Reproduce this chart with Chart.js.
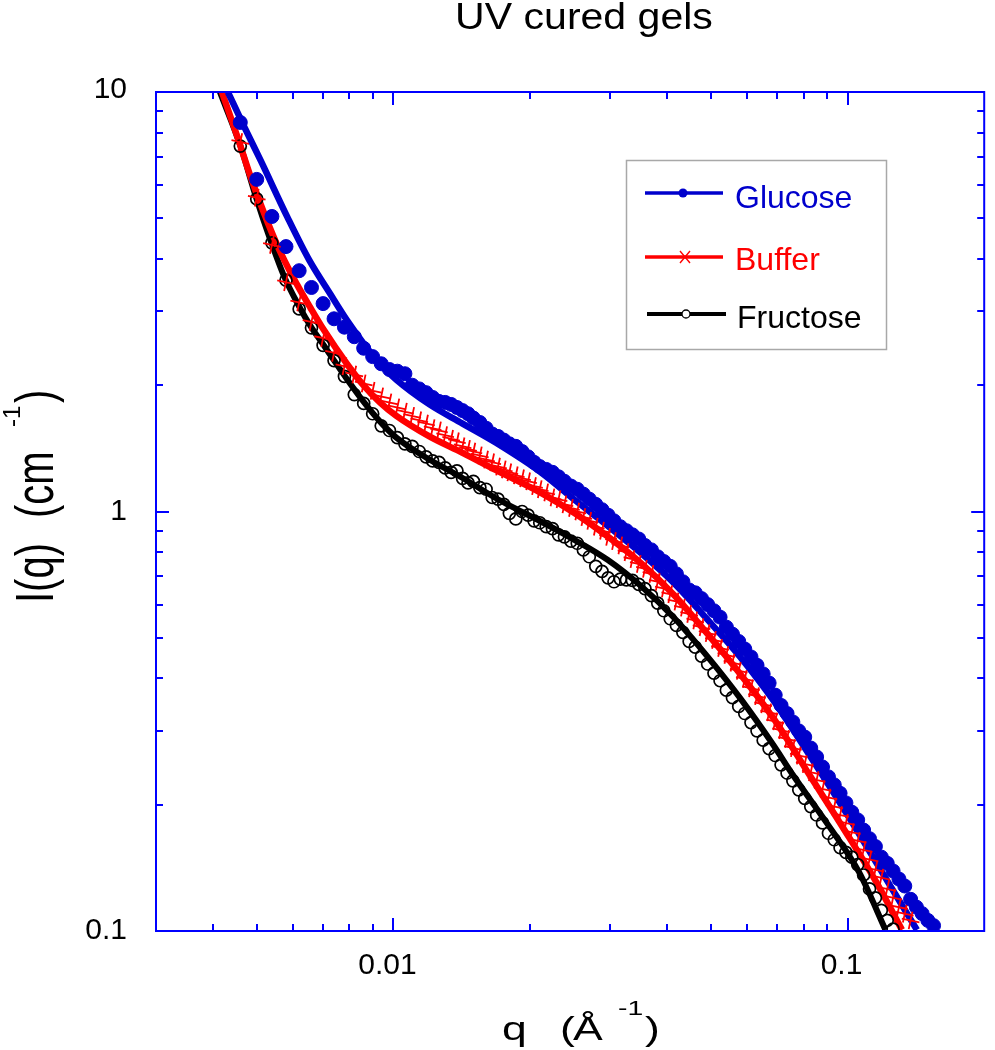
<!DOCTYPE html>
<html>
<head>
<meta charset="utf-8">
<script src="https://cdn.jsdelivr.net/npm/chart.js@4.4.0/dist/chart.umd.min.js"></script>
<style>
  html, body { margin: 0; padding: 0; background: #fff; }
  #wrap { width: 995px; height: 1050px; }
</style>
</head>
<body>
<div id="wrap"><canvas id="chart" width="995" height="1050"></canvas></div>
<script>
// ----- DATA -----
// q grid shared by the three measured series (1/A)
const qData = [
  0.0046, 0.0050, 0.0054, 0.0058, 0.0062, 0.0066, 0.0070, 0.0074, 0.0078, 0.0082,
  0.0086, 0.0090, 0.0094, 0.0098, 0.0102, 0.0106, 0.0110, 0.0114, 0.0118, 0.0122,
  0.0126, 0.0130, 0.0134, 0.0138, 0.0142, 0.0146, 0.0150, 0.0155, 0.0160, 0.0165,
  0.0170, 0.0175, 0.0180, 0.0186, 0.0192, 0.0198, 0.0204, 0.0210, 0.0217, 0.0224,
  0.0231, 0.0238, 0.0246, 0.0254, 0.0262, 0.0270, 0.0279, 0.0288, 0.0297, 0.0306,
  0.0316, 0.0326, 0.0336, 0.0347, 0.0358, 0.0370, 0.0382, 0.0394, 0.0407, 0.0420,
  0.0434, 0.0448, 0.0462, 0.0477, 0.0492, 0.0508, 0.0524, 0.0541, 0.0558, 0.0576,
  0.0594, 0.0613, 0.0632, 0.0652, 0.0672, 0.0693, 0.0714, 0.0736, 0.0758, 0.0781,
  0.0805, 0.0830, 0.0855, 0.0881, 0.0908, 0.0935, 0.0963, 0.0992, 0.1022, 0.1053,
  0.1085, 0.1118, 0.1152, 0.1187, 0.1223, 0.1260, 0.1298, 0.1337, 0.1377, 0.1418,
  0.1460, 0.1503, 0.1547,
]

const glucoseI = [
  8.46, 6.19, 5.05, 4.28, 3.75, 3.42, 3.13, 2.88, 2.75, 2.61,
  2.45, 2.34, 2.25, 2.18, 2.16, 2.13, 2.00, 1.96, 1.92, 1.87,
  1.83, 1.82, 1.80, 1.77, 1.74, 1.71, 1.67, 1.63, 1.58, 1.53,
  1.51, 1.48, 1.45, 1.43, 1.39, 1.35, 1.31, 1.28, 1.26, 1.24,
  1.21, 1.18, 1.15, 1.13, 1.10, 1.07, 1.04, 1.01, 0.98, 0.95,
  0.92, 0.90, 0.88, 0.86, 0.83, 0.81, 0.78, 0.76, 0.74, 0.71,
  0.68, 0.65, 0.64, 0.62, 0.60, 0.58, 0.56, 0.53, 0.51, 0.49,
  0.47, 0.45, 0.43, 0.41, 0.39, 0.365, 0.345, 0.33, 0.315, 0.30,
  0.29, 0.273, 0.26, 0.246, 0.233, 0.223, 0.213, 0.202, 0.192, 0.184,
  0.174, 0.166, 0.159, 0.150, 0.145, 0.139, 0.133, 0.128, 0.119, 0.114,
  0.110, 0.106, 0.103,
]

const bufferI = [
  7.60, 5.60, 4.32, 3.52, 3.15, 2.83, 2.59, 2.39, 2.22, 2.12,
  2.02, 1.94, 1.88, 1.82, 1.77, 1.73, 1.69, 1.65, 1.62, 1.58,
  1.56, 1.52, 1.49, 1.47, 1.43, 1.41, 1.39, 1.36, 1.33, 1.31,
  1.28, 1.26, 1.24, 1.22, 1.20, 1.18, 1.15, 1.13, 1.11, 1.08,
  1.07, 1.04, 1.02, 1.00, 0.97, 0.95, 0.92, 0.90, 0.87, 0.85,
  0.83, 0.80, 0.77, 0.75, 0.73, 0.71, 0.68, 0.655, 0.635, 0.61,
  0.59, 0.57, 0.55, 0.53, 0.513, 0.494, 0.473, 0.455, 0.436, 0.417,
  0.399, 0.379, 0.363, 0.347, 0.332, 0.316, 0.301, 0.287, 0.273, 0.262,
  0.250, 0.239, 0.229, 0.218, 0.208, 0.198, 0.189, 0.181, 0.172, 0.164,
  0.156, 0.148, 0.140, 0.134, 0.126, 0.120, 0.114, 0.110, 0.106,
]

const fructoseI = [
  7.43, 5.56, 4.37, 3.56, 3.04, 2.74, 2.49, 2.29, 2.10, 1.90,
  1.81, 1.71, 1.60, 1.56, 1.50, 1.45, 1.43, 1.39, 1.35, 1.32,
  1.31, 1.27, 1.24, 1.25, 1.20, 1.17, 1.18, 1.14, 1.13, 1.08,
  1.07, 1.04, 0.99, 0.96, 1.00, 0.98, 0.95, 0.94, 0.92, 0.91,
  0.88, 0.87, 0.85, 0.84, 0.81, 0.78, 0.74, 0.72, 0.695, 0.68,
  0.69, 0.687, 0.685, 0.67, 0.655, 0.63, 0.605, 0.58, 0.555, 0.535,
  0.515, 0.49, 0.475, 0.452, 0.433, 0.412, 0.395, 0.375, 0.36, 0.343,
  0.33, 0.314, 0.30, 0.285, 0.272, 0.262, 0.249, 0.238, 0.228, 0.217,
  0.207, 0.198, 0.189, 0.181, 0.171, 0.165, 0.158, 0.154, 0.150, 0.144,
  0.136, 0.126, 0.120, 0.112, 0.106, 0.101,
]

// fitted curves
const glucoseFitQ = [0.004319, 0.004697, 0.005106, 0.005837, 0.006521, 0.007260, 0.007896, 0.008586, 0.009335, 0.01015,
  0.01200, 0.01420, 0.01679, 0.02123, 0.02509, 0.02967, 0.03509, 0.04149, 0.04907, 0.05802,
  0.06860, 0.08108, 0.1000, 0.1192, 0.1422]
const glucoseFitI = [10.0, 8.25, 6.85, 5.04, 3.98, 3.30, 2.86, 2.52, 2.25, 2.06,
  1.80, 1.62, 1.46, 1.235, 1.065, 0.924, 0.796, 0.675, 0.554, 0.450,
  0.355, 0.270, 0.189, 0.138, 0.1006]

const bufferFitQ = [0.004190, 0.004542, 0.004856, 0.005281, 0.005692, 0.006139, 0.006564, 0.007024, 0.007896, 0.008586,
  0.009335, 0.01015, 0.01200, 0.01420, 0.01679, 0.02123, 0.02509, 0.02967, 0.03509, 0.04149,
  0.04907, 0.05802, 0.06860, 0.08248, 0.09752, 0.1153, 0.1318]
const bufferFitI = [10.0, 7.77, 6.24, 4.90, 4.06, 3.47, 3.06, 2.71, 2.25, 2.00,
  1.82, 1.69, 1.51, 1.38, 1.256, 1.105, 0.990, 0.871, 0.753, 0.632,
  0.512, 0.410, 0.322, 0.2354, 0.177, 0.1316, 0.1006]

const fructoseFitQ = [0.004148, 0.004604, 0.004980, 0.005370, 0.005741, 0.006192, 0.006564, 0.007024, 0.007444, 0.007896,
  0.008586, 0.009335, 0.01015, 0.01200, 0.01420, 0.01679, 0.01795, 0.02123, 0.02509, 0.02967,
  0.03509, 0.04149, 0.04907, 0.05802, 0.06860, 0.07584, 0.08967, 0.1061, 0.1212]
const fructoseFitI = [10.0, 7.43, 5.62, 4.41, 3.64, 3.09, 2.77, 2.49, 2.27, 2.07,
  1.83, 1.64, 1.50, 1.33, 1.202, 1.077, 1.036, 0.944, 0.855, 0.766,
  0.664, 0.558, 0.452, 0.359, 0.278, 0.2354, 0.182, 0.138, 0.1006]

// axis ticks and their labels
const xMajor = [0.01, 0.1]
const xLabels = ['0.01', '0.1']
const xMinor = [0.004, 0.005, 0.006, 0.007, 0.008, 0.009, 0.02, 0.03, 0.04, 0.05, 0.06, 0.07, 0.08, 0.09]
const yMajor = [0.1, 1, 10]
const yLabels = ['0.1', '1', '10']
const yMinor = [0.2, 0.3, 0.4, 0.5, 0.6, 0.7, 0.8, 0.9, 2, 3, 4, 5, 6, 7, 8, 9]

// ----- STYLE -----
const FONT = "'Liberation Sans', Arial, Helvetica, sans-serif"
const AXIS_BLUE = '#0000ff'
const BLUE = '#0000cc'
const RED = '#ff0000'
const BLACK = '#000000'

function pts(qs, vals) {
  return vals.map((v, i) => ({ x: qs[i], y: v }))
}

function stretchedText(ctx, str, x, y, size, color, sx, sy, align) {
  ctx.save()
  ctx.translate(x, y)
  ctx.scale(sx, sy)
  ctx.font = `${size}px ${FONT}`
  ctx.fillStyle = color
  ctx.textAlign = align || 'left'
  ctx.textBaseline = 'alphabetic'
  ctx.fillText(str, 0, 0)
  ctx.restore()
}

// ----- DECORATION: frame, inward ticks, tick labels, titles, legend -----
const decor = {
  id: 'decor',
  afterDatasetsDraw(chart) {
    const ctx = chart.ctx
    const { left, right, top, bottom } = chart.chartArea
    const xs = chart.scales.x
    const ys = chart.scales.y

    ctx.save()
    ctx.strokeStyle = AXIS_BLUE
    ctx.lineWidth = 2
    ctx.beginPath()
    const xTick = (v, len) => {
      const p = Math.round(xs.getPixelForValue(v))
      ctx.moveTo(p, bottom); ctx.lineTo(p, bottom - len)
      ctx.moveTo(p, top); ctx.lineTo(p, top + len)
    }
    const yTick = (v, len) => {
      const p = Math.round(ys.getPixelForValue(v))
      ctx.moveTo(left, p); ctx.lineTo(left + len, p)
      ctx.moveTo(right, p); ctx.lineTo(right - len, p)
    }
    xMajor.forEach((v) => xTick(v, 13))
    xMinor.forEach((v) => xTick(v, 7))
    yMajor.forEach((v) => yTick(v, 13))
    yMinor.forEach((v) => yTick(v, 7))
    ctx.stroke()
    ctx.strokeRect(left, top, right - left, bottom - top)
    ctx.restore()

    // tick labels
    xMajor.forEach((v, i) => {
      stretchedText(ctx, xLabels[i], xs.getPixelForValue(v) - 6, bottom + 43, 30, BLACK, 1, 1, 'center')
    })
    yMajor.forEach((v, i) => {
      const p = ys.getPixelForValue(v)
      stretchedText(ctx, yLabels[i], left - 29, p + (i === 2 ? 6 : 8), 30, BLACK, 1, 1, 'right')
    })

    // title
    stretchedText(ctx, 'UV cured gels', 584, 29, 36, BLACK, 1.14, 1, 'center')

    // x axis title: q (Å^-1)
    stretchedText(ctx, 'q', 502, 1040, 33, BLACK, 1.35, 1)
    stretchedText(ctx, '(', 560, 1040, 33, BLACK, 1.35, 1)
    stretchedText(ctx, 'Å', 573, 1040, 33, BLACK, 1.35, 1)
    stretchedText(ctx, '-1', 618, 1015, 21, BLACK, 1.35, 1)
    stretchedText(ctx, ')', 645, 1040, 33, BLACK, 1.35, 1)

    // y axis title: I(q) (cm^-1), reading upwards
    ctx.save()
    ctx.translate(53, 603)
    ctx.rotate(-Math.PI / 2)
    stretchedText(ctx, 'I(q)', 0, 0, 40, BLACK, 1, 1.33)
    stretchedText(ctx, '(cm', 85, 0, 40, BLACK, 1, 1.33)
    stretchedText(ctx, '-1', 176, -33, 24, BLACK, 1, 1)
    stretchedText(ctx, ')', 200, 0, 40, BLACK, 1, 1.33)
    ctx.restore()

    // legend
    ctx.save()
    ctx.strokeStyle = '#a8a8a8'
    ctx.lineWidth = 1.5
    ctx.strokeRect(626.5, 160.5, 260, 189)

    ctx.lineCap = 'butt'
    // Glucose
    ctx.strokeStyle = BLUE; ctx.lineWidth = 3.5
    ctx.beginPath(); ctx.moveTo(645, 193); ctx.lineTo(723, 193); ctx.stroke()
    ctx.fillStyle = BLUE
    ctx.beginPath(); ctx.arc(683, 193, 4.5, 0, Math.PI * 2); ctx.fill()
    // Buffer
    ctx.strokeStyle = RED; ctx.lineWidth = 3.5
    ctx.beginPath(); ctx.moveTo(645, 257); ctx.lineTo(723, 257); ctx.stroke()
    ctx.lineWidth = 1.4
    ctx.beginPath()
    ctx.moveTo(680, 251); ctx.lineTo(690, 263)
    ctx.moveTo(690, 251); ctx.lineTo(680, 263)
    ctx.stroke()
    // Fructose
    ctx.strokeStyle = BLACK; ctx.lineWidth = 4
    ctx.beginPath(); ctx.moveTo(647, 314); ctx.lineTo(726, 314); ctx.stroke()
    ctx.fillStyle = '#ffffff'; ctx.lineWidth = 1.3
    ctx.beginPath(); ctx.arc(686, 314, 4, 0, Math.PI * 2); ctx.fill(); ctx.stroke()
    ctx.restore()

    stretchedText(ctx, 'Glucose', 735, 208, 32, BLUE, 1, 1)
    stretchedText(ctx, 'Buffer', 735, 270, 32, RED, 1, 1)
    stretchedText(ctx, 'Fructose', 737, 328, 32, BLACK, 1, 1)
  },
}

// ----- CHART -----
const ctx = document.getElementById('chart').getContext('2d')

new Chart(ctx, {
  type: 'scatter',
  data: {
    datasets: [
      {
        label: 'Fructose fit', data: pts(fructoseFitQ, fructoseFitI), showLine: true,
        borderColor: BLACK, borderWidth: 6, pointRadius: 0, cubicInterpolationMode: 'monotone', order: 6,
      },
      {
        label: 'Buffer fit', data: pts(bufferFitQ, bufferFitI), showLine: true,
        borderColor: RED, borderWidth: 6.5, pointRadius: 0, cubicInterpolationMode: 'monotone', order: 5,
      },
      {
        label: 'Glucose fit', data: pts(glucoseFitQ, glucoseFitI), showLine: true,
        borderColor: BLUE, borderWidth: 6.5, pointRadius: 0, cubicInterpolationMode: 'monotone', order: 4,
      },
      {
        label: 'Glucose', data: pts(qData, glucoseI), showLine: false,
        pointStyle: 'circle', pointRadius: 7, pointBorderWidth: 1,
        pointBackgroundColor: BLUE, pointBorderColor: BLUE, order: 3,
      },
      {
        label: 'Fructose', data: pts(qData, fructoseI), showLine: false,
        pointStyle: 'circle', pointRadius: 6, pointBorderWidth: 1.7,
        pointBackgroundColor: 'rgba(0,0,0,0)', pointBorderColor: BLACK, order: 2,
      },
      {
        label: 'Buffer', data: pts(qData, bufferI), showLine: false,
        pointStyle: 'cross', pointRadius: 9, pointRotation: 12, pointBorderWidth: 1.8,
        pointBorderColor: RED, pointBackgroundColor: RED, order: 1,
      },
    ],
  },
  options: {
    responsive: false,
    animation: false,
    events: [],
    layout: { padding: { left: 0, right: 2, top: 92, bottom: 0 } },
    plugins: {
      legend: { display: false },
      title: { display: false },
      tooltip: { enabled: false },
    },
    scales: {
      x: {
        type: 'logarithmic',
        min: 0.003,
        max: 0.2,
        grid: { display: false, drawTicks: false },
        border: { display: false },
        ticks: { display: false },
        afterFit: (s) => { s.height = 119 },
      },
      y: {
        type: 'logarithmic',
        min: 0.1,
        max: 10,
        grid: { display: false, drawTicks: false },
        border: { display: false },
        ticks: { display: false },
        afterFit: (s) => { s.width = 156 },
      },
    },
  },
  plugins: [decor],
})
</script>
</body>
</html>
